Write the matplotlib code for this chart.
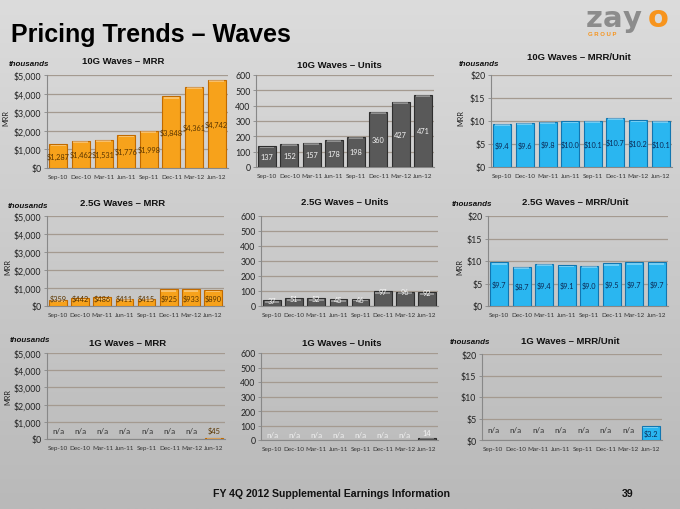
import numpy as np
import matplotlib
matplotlib.use("Agg")
import matplotlib.pyplot as plt

# data
quarters = ['Sep-10', 'Dec-10', 'Mar-11', 'Jun-11', 'Sep-11', 'Dec-11', 'Mar-12', 'Jun-12']
mrr_10g = [1287, 1462, 1531, 1776, 1998, 3848, 4361, 4742]
units_10g = [137, 152, 157, 178, 198, 360, 427, 471]
unit_10g = [9.4, 9.6, 9.8, 10.0, 10.1, 10.7, 10.2, 10.1]
mrr_25g = [359, 442, 486, 411, 415, 925, 933, 890]
units_25g = [37, 51, 52, 45, 46, 97, 96, 92]
unit_25g = [9.7, 8.7, 9.4, 9.1, 9.0, 9.5, 9.7, 9.7]
nan = float('nan')
mrr_1g = [nan, nan, nan, nan, nan, nan, nan, 45]
units_1g = [nan, nan, nan, nan, nan, nan, nan, 14]
unit_1g = [nan, nan, nan, nan, nan, nan, nan, 3.2]

W, H = 680, 510
TICKFONT = ['Lato', 'DejaVu Sans']
HEADFONT = ['Liberation Sans', 'DejaVu Sans']

styles = {
    'orange': dict(face='#f7a21b', edge='#c06a00', txt='#5a3500'),
    'gray': dict(face='#595959', edge='#2e2e2e', txt='#f4f4f4'),
    'blue': dict(face='#2ab6f0', edge='#1276b0', txt='#0b2a55'),
}

fig = plt.figure(figsize=(6.8, 5.1), dpi=100)

# background gradient
bg = fig.add_axes([0, 0, 1, 1], zorder=-10)
grad = np.linspace(0, 1, 256).reshape(-1, 1)
bg.imshow(grad, aspect='auto', cmap=matplotlib.colors.LinearSegmentedColormap.from_list(
    'bg', ['#dcdcdc', '#b9b9b9']), extent=[0, 1, 0, 1])
bg.axis('off')


def px(x, y):
    return x / W, 1 - y / H


def rect(x0, y0, x1, y1):
    return [x0 / W, 1 - y1 / H, (x1 - x0) / W, (y1 - y0) / H]


def panel(r, vals, ylim, yticks, fmt, style, title, title_xy, label_mode,
          thousands_xy=None, mrr_xy=None, na_y=None, na_color='#333333'):
    ax = fig.add_axes(rect(*r))
    ax.patch.set_alpha(0)
    st = styles[style]
    x = np.arange(len(quarters))
    v = np.array(vals, dtype=float)
    ok = ~np.isnan(v)
    ax.bar(x[ok], v[ok], width=0.8, color=st['face'], edgecolor=st['edge'], linewidth=0.8, zorder=3)
    # light cap on top of each bar
    cap = (ylim[1] - ylim[0]) * 0.02
    ax.bar(x[ok], np.minimum(cap, v[ok] * 0.4), bottom=v[ok] - np.minimum(cap, v[ok] * 0.4) * 1.3,
           width=0.66, color='white', alpha=0.35, linewidth=0, zorder=4)
    ax.set_xlim(-0.5, len(quarters) - 0.5)
    ax.set_ylim(*ylim)
    ax.set_yticks(yticks)
    ax.set_yticklabels([fmt(t) for t in yticks], fontsize=6.3, family=TICKFONT, color='#222222')
    ax.set_xticks(x)
    ax.set_xticklabels(quarters, fontsize=4.6, family=TICKFONT, color='#333333')
    ax.tick_params(axis='x', length=0, pad=4)
    ax.tick_params(axis='y', length=2, width=0.6, color='#888888', pad=2)
    ax.grid(axis='y', color='#a49a90', linewidth=0.9, zorder=0)
    for s in ['top', 'right']:
        ax.spines[s].set_visible(False)
    ax.spines['left'].set_color('#888888')
    ax.spines['bottom'].set_color('#888888')
    ax.spines['left'].set_linewidth(0.8)
    ax.spines['bottom'].set_linewidth(0.8)
    for i in range(len(v)):
        if np.isnan(v[i]):
            if na_y is not None:
                ax.text(i, na_y, 'n/a', ha='center', va='center', fontsize=5.8,
                        family=TICKFONT, color=na_color, zorder=5)
            continue
        if label_mode == 'center':
            ly = v[i] / 2
        elif label_mode == 'top':
            ly = v[i]
        else:
            ly = label_mode
        ax.text(i, ly, fmt(v[i], lab=True), ha='center', va='center', fontsize=5.3,
                family=TICKFONT, color=st['txt'], zorder=5)
    fig.text(*px(*title_xy), title, ha='center', va='center', fontsize=6.8,
             weight='bold', family=HEADFONT, color='#111111')
    if thousands_xy:
        fig.text(*px(*thousands_xy), 'thousands', ha='center', va='center', fontsize=5.8,
                 weight='bold', style='italic', family=HEADFONT, color='#111111')
    if mrr_xy:
        fig.text(*px(*mrr_xy), 'MRR', ha='center', va='center', rotation=90, fontsize=5.3,
                 family=TICKFONT, color='#222222')
    return ax


def dollars(t, lab=False):
    return '${:,.0f}'.format(t)


def plain(t, lab=False):
    return '{:.0f}'.format(t)


def per_unit(t, lab=False):
    return '${:.1f}'.format(t) if lab else '${:.0f}'.format(t)


usd_ticks = [0, 1000, 2000, 3000, 4000, 5000]
unit_ticks = [0, 100, 200, 300, 400, 500, 600]
pu_ticks = [0, 5, 10, 15, 20]

# top row - 10G
panel((47, 76, 228, 169), mrr_10g, (0, 5000), usd_ticks, dollars, 'orange',
      '10G Waves \u2013 MRR', (123, 61), 'center', (29, 64), (6, 118))
panel((256, 76, 434, 168), units_10g, (0, 600), unit_ticks, plain, 'gray',
      '10G Waves \u2013 Units', (339, 66), 'center')
panel((491, 76, 672, 168), unit_10g, (0, 20), pu_ticks, per_unit, 'blue',
      '10G Waves \u2013 MRR/Unit', (579, 57), 'center', (479, 64), (461, 118))

# middle row - 2.5G
panel((47, 217, 224, 307), mrr_25g, (0, 5000), usd_ticks, dollars, 'orange',
      '2.5G Waves \u2013 MRR', (123, 204), 420, (28, 206), (8, 267))
panel((261, 217, 438, 307), units_25g, (0, 600), unit_ticks, plain, 'gray',
      '2.5G Waves \u2013 Units', (345, 203), 'top')
panel((488, 217, 668, 307), unit_25g, (0, 20), pu_ticks, per_unit, 'blue',
      '2.5G Waves \u2013 MRR/Unit', (575, 203), 'center', (472, 205), (460, 267))

# bottom row - 1G
panel((47, 354, 225, 440), mrr_1g, (0, 5000), usd_ticks, dollars, 'orange',
      '1G Waves \u2013 MRR', (128, 343), 500, (30, 341), (8, 397), na_y=500)
panel((261, 354, 438, 441), units_1g, (0, 600), unit_ticks, plain, 'gray',
      '1G Waves \u2013 Units', (342, 343), 50, na_y=35, na_color='#f0f0f0')
panel((482, 355, 662, 441), unit_1g, (0, 20), pu_ticks, per_unit, 'blue',
      '1G Waves \u2013 MRR/Unit', (570, 342), 'center', (470, 343), na_y=2.5)

# header
fig.text(*px(11, 35), 'Pricing Trends \u2013 Waves', ha='left', va='center', fontsize=18,
         weight='bold', family=HEADFONT, color='#000000')

# logo, letters placed one by one to mimic the wide wordmark
for ch, cx in zip('zay', [594, 613, 632]):
    fig.text(*px(cx, 27), ch, ha='center', va='baseline', fontsize=21, weight='bold',
             family='DejaVu Sans', color='#8c8c8c')
fig.text(*px(658, 27), 'o', ha='center', va='baseline', fontsize=22, weight='bold',
         family='DejaVu Sans', color='#f7941d')
fig.text(*px(602, 35), 'G R O U P', ha='center', va='center', fontsize=4.3, weight='bold',
         family=HEADFONT, color='#f7941d')

# footer
fig.text(*px(213, 494), 'FY 4Q 2012 Supplemental Earnings Information', ha='left', va='center',
         fontsize=7.6, weight='bold', family=HEADFONT, color='#111111')
fig.text(*px(628, 494), '39', ha='center', va='center', fontsize=7.6, weight='bold',
         family=HEADFONT, color='#111111')

fig.savefig('out.png', dpi=100)
